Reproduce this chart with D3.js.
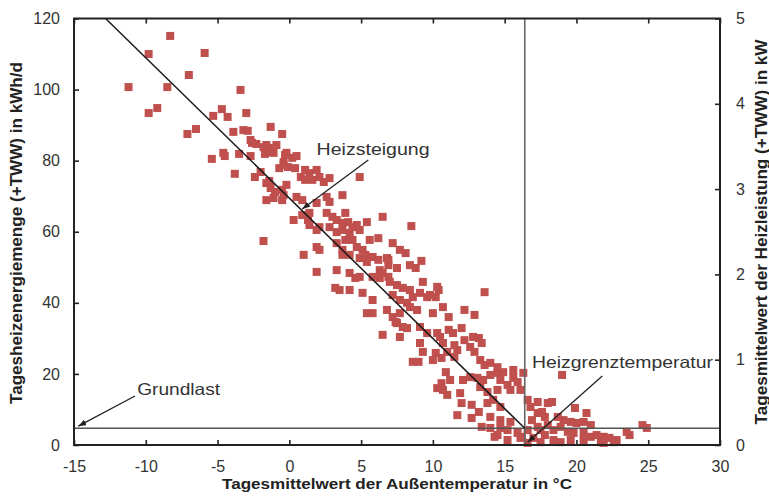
<!DOCTYPE html>
<html>
<head>
<meta charset="utf-8">
<script src="https://cdn.jsdelivr.net/npm/d3@7"></script>
<style>
  body { margin: 0; background: #fff; }
  svg { display: block; font-family: Arial, "Liberation Sans", Helvetica, sans-serif; }
</style>
</head>
<body>
<svg id="chart" width="769" height="498"></svg>
<script>
// Axis ticks
const tempTicks = [-15, -10, -5, 0, 5, 10, 15, 20, 25, 30];
const energyTicks = [0, 20, 40, 60, 80, 100, 120];
const powerTicks = [0, 1, 2, 3, 4, 5];

// Heating characteristic
const baseLoad = 4.7;          // Grundlast, kWh/d
const heatingLimit = 16.4;     // Heizgrenztemperatur, °C
const slopeTop = [-12.8, 120]; // where the heating line leaves the plot at the top

// Daily readings: [mean outdoor temperature °C, daily heating energy kWh/d]
const coldDays = [
  [-8.3,115.1],[-9.8,110.0],[-5.9,110.3],[-7.0,104.1],[-11.2,100.7],[-8.5,100.7],[-3.4,99.9],
  [-9.2,94.8],[-9.8,93.4],[-4.7,94.5],[-4.3,92.3],[-5.3,92.6],[-3.0,93.4],[-1.3,89.5],[-6.5,88.9],
  [-7.1,87.5],[-3.9,88.1],[-3.2,88.6],[-2.9,88.4],[-0.5,87.5],[-2.7,85.8],[-2.3,84.7],[-1.8,83.8],
  [-1.3,83.6],[-0.9,84.4],[-4.6,82.2],[-4.5,81.3],[-3.5,81.9],[-2.7,81.3],[-1.7,81.9],[-1.1,82.2],
  [-5.4,80.5],[-0.3,81.6],[-0.4,78.8],[-0.7,77.9],[-3.8,76.3],[-2.4,75.4],[-2.0,76.8],[-1.4,74.3]
];
const coolDays = [
  [-2.6,85.0],[-1.6,84.4],[-1.3,82.4],[-0.2,82.2],[0.2,80.8],[0.5,81.3],[-0.4,79.6],[-0.1,78.2],
  [0.4,77.9],[1.1,77.4],[1.4,76.5],[1.9,77.4],[2.1,75.4],[1.6,74.6],[1.1,74.6],[0.8,75.4],
  [2.4,74.0],[2.8,75.1],[4.9,75.4],[-1.6,73.7],[-1.3,72.3],[-1.0,71.2],[-0.5,71.8],[-0.2,73.2],
  [-0.4,70.3],[-1.1,69.5],[-1.6,68.9],[-0.5,68.9],[0.5,69.8],[0.9,68.9],[1.9,68.1],[2.6,69.8],
  [2.8,68.4],[3.7,70.3],[0.3,63.3],[0.9,64.7],[1.3,63.3],[1.4,61.9],[2.1,61.3],[1.9,60.5],
  [2.6,65.3],[3.0,64.2],[3.3,63.3],[3.9,65.3],[4.1,62.7],[4.4,61.3],[4.9,60.5],[5.4,62.7],
  [3.7,60.5],[3.3,59.9],[2.8,61.3],[6.5,64.2],[-1.8,57.4],[1.9,55.7],[2.1,54.9],[1.0,53.5],
  [3.3,56.8],[3.7,54.9],[4.2,53.5],[4.7,55.7],[5.1,54.9],[5.6,57.7],[6.2,58.2],[5.8,52.9],
  [5.4,51.5],[4.9,52.6],[1.9,48.7],[3.3,49.2],[4.2,48.4],[4.9,47.3],[6.3,49.2],[6.8,52.6]
];
const mildDays = [
  [1.4,65.3],[3.7,62.5],[4.7,61.9],[4.2,59.7],[8.5,61.6],[3.9,57.7],[4.4,57.7],[5.3,53.5],
  [3.7,53.5],[7.2,56.8],[7.7,54.9],[8.1,54.0],[6.2,52.1],[6.9,52.1],[6.9,50.6],[7.5,49.8],
  [6.5,48.4],[6.3,47.0],[5.8,47.3],[6.9,47.3],[9.2,51.8],[8.4,50.6],[8.8,49.8],[4.6,47.0],
  [7.0,45.9],[7.5,45.0],[7.9,44.2],[7.2,42.2],[7.7,40.8],[8.2,40.0],[8.6,41.6],[8.4,38.8],
  [8.9,38.0],[9.3,45.9],[10.3,44.5],[9.6,41.6],[10.2,41.6],[3.2,44.2],[3.5,43.6],[4.2,43.6],
  [5.1,42.8],[5.8,40.8],[10.7,38.8],[11.1,36.0],[12.2,38.0],[12.9,36.6],[5.4,37.1],[5.8,37.1],
  [6.8,38.0],[7.2,36.0],[7.5,34.3],[7.9,33.2],[8.2,32.9],[7.7,30.4],[6.5,31.0],[9.1,33.2],
  [9.6,31.5],[9.1,28.7],[10.5,30.4],[10.7,28.7],[11.4,31.5],[12.0,32.9],[12.2,29.5],[12.6,27.6],
  [11.7,26.7],[11.0,26.2],[12.8,30.4],[9.3,26.2]
];
const transitionDays = [
  [8.4,43.6],[9.1,42.8],[9.8,42.2],[10.4,43.6],[7.7,37.1],[7.4,34.6],[10.0,37.1],[13.6,43.0],
  [10.3,31.5],[11.1,32.4],[11.5,28.1],[13.2,30.1],[13.4,28.7],[12.9,26.2],[11.5,24.8],[8.6,23.4],
  [9.0,23.4],[10.2,25.9],[10.0,23.9],[10.6,24.5],[10.9,20.5],[11.2,18.3],[10.6,17.4],[10.3,16.0],
  [10.7,15.5],[11.0,14.1],[12.1,18.3],[12.6,19.1],[13.1,18.9],[13.5,18.3],[14.0,19.7],[14.5,20.3],
  [14.7,18.3],[15.2,16.9],[15.6,18.9],[15.9,17.7],[16.3,20.3],[15.4,15.5],[14.5,15.5],[11.9,14.6],
  [12.0,11.8],[12.7,11.3],[11.7,8.4],[12.7,7.6],[13.2,9.3],[13.8,11.8],[14.2,12.7],[14.7,10.7],
  [14.0,7.9],[14.7,7.0],[15.4,6.5],[13.4,5.1],[14.0,4.8],[14.7,4.8],[15.2,4.2],[15.9,3.4],
  [14.5,2.8],[16.6,12.7],[16.8,10.7],[17.3,9.0],[16.9,7.0],[17.3,5.1],[16.6,4.2],[16.2,2.3]
];
const warmDays = [
  [13.3,23.9],[13.6,22.5],[14.0,23.1],[14.5,21.9],[14.9,20.5],[15.6,21.1],[13.3,16.3],[13.8,14.9],
  [16.1,15.5],[19.0,19.7],[18.0,11.8],[18.3,12.1],[17.8,7.9],[18.7,7.9],[19.9,10.4],[20.7,9.0],
  [19.1,7.0],[19.6,6.5],[20.0,6.2],[20.5,6.5],[21.0,5.6],[17.5,4.2],[18.0,5.6],[18.4,4.2],
  [18.9,5.1],[19.4,3.7],[19.8,3.4],[20.5,3.4],[21.0,2.3],[21.4,2.8],[21.9,2.3],[22.3,2.0],
  [22.8,1.4],[18.9,0.8],[19.6,1.4],[20.5,1.4],[21.7,0.8],[22.6,0.8],[23.7,2.8],[24.6,5.6],
  [24.9,4.8],[14.3,2.3],[15.2,1.4],[16.1,2.0],[17.0,2.0],[21.9,0.6],[23.5,3.7],[17.3,12.1],
  [17.6,9.3],[17.8,2.8],[18.4,1.4],[16.6,0.6],[17.5,0.8]
];

// Callouts: label, label anchor, arrow tail, arrow tip (data units)
const callouts = [
  { label: "Heizsteigung", at: [1.9, 81.6], from: [5.5, 80.2], to: [0.9, 66.4], width: 113 },
  { label: "Grundlast", at: [-10.6, 14.1], from: [-10.75, 13.8], to: [-14.7, 5.3], width: 83 },
  { label: "Heizgrenztemperatur", at: [16.9, 21.7], from: [21.8, 19.4], to: [16.6, 0.8], width: 181 }
];

const readings = [...coldDays, ...coolDays, ...mildDays, ...transitionDays, ...warmDays];

const W = 769, H = 498;
const margin = { top: 18.5, right: 49, bottom: 53, left: 74 };
const svg = d3.select("#chart");

const x = d3.scaleLinear().domain([-15, 30]).range([margin.left, W - margin.right]);
const y = d3.scaleLinear().domain([0, 120]).range([H - margin.bottom, margin.top]);
const yPower = d3.scaleLinear().domain([0, 5]).range([H - margin.bottom, margin.top]);

const tickColor = "#222";
const labelColor = "#333";

function styleAxis(g) {
  g.select(".domain").remove();
  g.selectAll(".tick line").attr("stroke", tickColor).attr("stroke-width", 1.6);
  g.selectAll(".tick text")
    .attr("fill", labelColor)
    .attr("font-size", 16)
    .attr("font-family", "Arial, 'Liberation Sans', sans-serif");
}

// Bottom axis
svg.append("g")
  .attr("transform", `translate(0,${H - margin.bottom})`)
  .call(d3.axisBottom(x).tickValues(tempTicks).tickFormat(d => String(d))
    .tickSizeInner(-5).tickSizeOuter(0).tickPadding(16))
  .call(styleAxis);

// Top axis (ticks only)
svg.append("g")
  .attr("transform", `translate(0,${margin.top})`)
  .call(d3.axisTop(x).tickValues(tempTicks).tickFormat("")
    .tickSizeInner(-5).tickSizeOuter(0))
  .call(styleAxis);

// Left axis: daily energy
svg.append("g")
  .attr("transform", `translate(${margin.left},0)`)
  .call(d3.axisLeft(y).tickValues(energyTicks).tickFormat(d => String(d))
    .tickSizeInner(-5).tickSizeOuter(0).tickPadding(14))
  .call(styleAxis);

// Right axis: mean heating power
svg.append("g")
  .attr("transform", `translate(${W - margin.right},0)`)
  .call(d3.axisRight(yPower).tickValues(powerTicks).tickFormat(d => String(d))
    .tickSizeInner(-5).tickSizeOuter(0).tickPadding(16))
  .call(styleAxis);

// Daily readings as squares
const sq = 8;
svg.append("g")
  .selectAll("rect")
  .data(readings)
  .join("rect")
  .attr("x", d => x(d[0]) - sq / 2)
  .attr("y", d => y(d[1]) - sq / 2)
  .attr("width", sq)
  .attr("height", sq)
  .attr("fill", "#c0504d");

// Reference lines
const lines = svg.append("g").attr("fill", "none");
lines.append("line")
  .attr("x1", x(-15)).attr("x2", x(30))
  .attr("y1", y(baseLoad)).attr("y2", y(baseLoad))
  .attr("stroke", "#555").attr("stroke-width", 1.6);
lines.append("line")
  .attr("x1", x(heatingLimit)).attr("x2", x(heatingLimit))
  .attr("y1", y(0)).attr("y2", y(120))
  .attr("stroke", "#666").attr("stroke-width", 1.6);
lines.append("line")
  .attr("x1", x(slopeTop[0])).attr("y1", y(slopeTop[1]))
  .attr("x2", x(heatingLimit)).attr("y2", y(baseLoad))
  .attr("stroke", "#1a1a1a").attr("stroke-width", 1.5);

// Plot frame
svg.append("rect")
  .attr("x", margin.left).attr("y", margin.top)
  .attr("width", W - margin.left - margin.right)
  .attr("height", H - margin.top - margin.bottom)
  .attr("fill", "none").attr("stroke", tickColor).attr("stroke-width", 2);

// Arrowhead
svg.append("defs").append("marker")
  .attr("id", "tip")
  .attr("markerUnits", "userSpaceOnUse")
  .attr("markerWidth", 8).attr("markerHeight", 6)
  .attr("refX", 8).attr("refY", 3)
  .attr("orient", "auto")
  .append("path")
  .attr("d", "M0,0 L8,3 L0,6 Z")
  .attr("fill", "#222");

// Callouts
const co = svg.append("g").selectAll("g").data(callouts).join("g");
co.append("line")
  .attr("x1", d => x(d.from[0])).attr("y1", d => y(d.from[1]))
  .attr("x2", d => x(d.to[0])).attr("y2", d => y(d.to[1]))
  .attr("stroke", "#222").attr("stroke-width", 1.3)
  .attr("marker-end", "url(#tip)");
co.append("text")
  .attr("x", d => x(d.at[0])).attr("y", d => y(d.at[1]))
  .attr("font-size", 16.5)
  .attr("fill", "#333")
  .attr("textLength", d => d.width)
  .attr("lengthAdjust", "spacingAndGlyphs")
  .text(d => d.label);

// Axis titles
svg.append("text")
  .attr("x", 397).attr("y", 489)
  .attr("text-anchor", "middle")
  .attr("font-size", 15.5).attr("font-weight", "bold").attr("fill", "#222")
  .attr("textLength", 350).attr("lengthAdjust", "spacingAndGlyphs")
  .text("Tagesmittelwert der Außentemperatur in °C");

svg.append("text")
  .attr("transform", "translate(22,233) rotate(-90)")
  .attr("text-anchor", "middle")
  .attr("font-size", 16).attr("font-weight", "bold").attr("fill", "#222")
  .attr("textLength", 342).attr("lengthAdjust", "spacingAndGlyphs")
  .text("Tagesheizenergiemenge (+TWW) in kWh/d");

svg.append("text")
  .attr("transform", "translate(767,232) rotate(-90)")
  .attr("text-anchor", "middle")
  .attr("font-size", 16).attr("font-weight", "bold").attr("fill", "#222")
  .attr("textLength", 385).attr("lengthAdjust", "spacingAndGlyphs")
  .text("Tagesmittelwert der Heizleistung (+TWW) in kW");
</script>
</body>
</html>
